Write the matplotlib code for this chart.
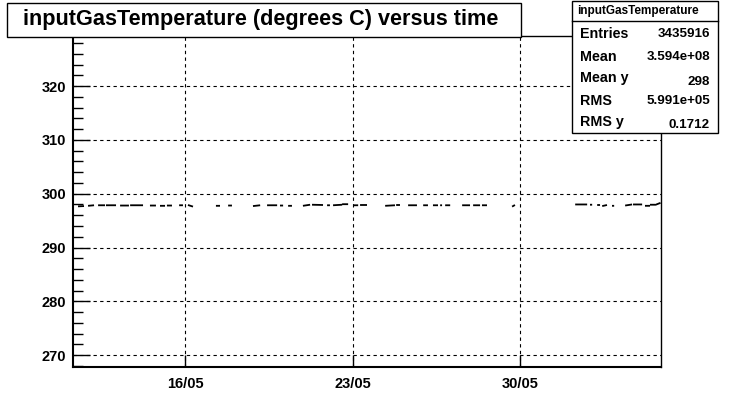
import datetime as dt
import numpy as np
import matplotlib
matplotlib.use("Agg")
import matplotlib.pyplot as plt
import matplotlib.dates as mdates
from matplotlib.patches import Rectangle

plt.rcParams['font.family'] = ['Liberation Sans', 'DejaVu Sans']

# ---- data (time in "day of May 2006", fractional) ----
seg_start = [11.51, 11.93, 12.35, 12.68, 13.27, 13.69, 14.52, 14.94, 15.23, 15.74,
             16.11, 17.28, 17.79, 18.83, 19.42, 19.96, 20.30, 20.92, 21.30, 21.93,
             22.18, 22.56, 23.02, 23.31, 24.36, 24.82, 25.32, 25.95, 26.36, 26.66,
             26.87, 27.58, 28.04, 28.41, 29.67, 32.31, 32.93, 33.23, 33.44, 33.85,
             34.40, 34.73, 35.23, 35.44, 35.65]
seg_end = [11.76, 12.18, 12.64, 13.10, 13.64, 14.23, 14.77, 15.15, 15.44, 15.90,
           16.32, 17.45, 17.95, 19.13, 19.84, 20.09, 20.46, 21.22, 21.76, 22.05,
           22.56, 22.81, 23.23, 23.60, 24.77, 24.98, 25.69, 26.15, 26.57, 26.74,
           27.08, 27.91, 28.33, 28.62, 29.79, 32.81, 33.02, 33.35, 33.64, 33.94,
           34.69, 35.11, 35.44, 35.65, 35.88]
seg_t0 = [297.65, 297.75, 297.85, 297.85, 297.80, 297.85, 297.80, 297.75, 297.80, 297.85,
          297.90, 297.75, 297.80, 297.70, 297.85, 297.80, 297.75, 297.75, 297.95, 297.85,
          297.85, 298.05, 297.85, 297.90, 297.75, 297.90, 297.85, 297.85, 297.85, 297.85,
          297.85, 297.85, 297.85, 297.85, 297.60, 298.00, 297.95, 297.90, 297.70, 297.75,
          297.80, 298.00, 297.75, 297.95, 297.90]
seg_t1 = [297.70, 297.85, 297.85, 297.85, 297.80, 297.85, 297.80, 297.75, 297.80, 297.85,
          297.60, 297.75, 297.80, 297.85, 297.85, 297.80, 297.75, 297.95, 297.90, 297.85,
          297.95, 298.05, 297.85, 297.90, 297.85, 297.90, 297.85, 297.85, 297.85, 297.85,
          297.85, 297.85, 297.85, 297.85, 297.90, 298.00, 297.95, 297.90, 297.90, 297.75,
          298.00, 298.00, 297.75, 297.95, 298.30]

x_tick_days = [16, 23, 30]
x_tick_labels = ["16/05", "23/05", "30/05"]
x_range_days = [11.30, 35.90]
y_ticks = [270, 280, 290, 300, 310, 320]
y_range = [267.8, 329.3]

title = "inputGasTemperature (degrees C) versus time"
stats_name = "inputGasTemperature"
stats_labels = ["Entries", "Mean", "Mean y", "RMS", "RMS y"]
stats_values = ["3435916", "3.594e+08", "298", "5.991e+05", "0.1712"]

base = dt.datetime(2006, 5, 1)
def to_date(d):
    return base + dt.timedelta(days=d - 1)

xs, ys = [], []
for s, e, a, b in zip(seg_start, seg_end, seg_t0, seg_t1):
    xs += [mdates.date2num(to_date(s)), mdates.date2num(to_date(e)), np.nan]
    ys += [a, b, np.nan]

W, H = 735, 408
fig = plt.figure(figsize=(W / 100, H / 100), dpi=100, facecolor='white')

def fx(px):
    return px / W
def fy(py):
    return 1 - py / H

ax = fig.add_axes([fx(73), fy(367), fx(661) - fx(73), fy(36) - fy(367)])
ax.plot(xs, ys, color='black', lw=1.3, solid_capstyle='butt')

ax.set_xlim(mdates.date2num(to_date(x_range_days[0])), mdates.date2num(to_date(x_range_days[1])))
ax.set_ylim(*y_range)
ax.set_xticks([mdates.date2num(to_date(d)) for d in x_tick_days])
ax.set_xticklabels(x_tick_labels)
ax.set_yticks(y_ticks)
ax.set_yticks(np.arange(268, 330, 2), minor=True)

for lab in ax.get_xticklabels() + ax.get_yticklabels():
    lab.set_fontweight('bold')
    lab.set_fontsize(10.5)

ax.tick_params(axis='y', which='major', direction='in', length=12.5, width=1, pad=5, right=False)
ax.tick_params(axis='y', which='minor', direction='in', length=7, width=1, right=False)
ax.tick_params(axis='x', which='major', direction='in', length=8.5, width=1, pad=7, top=False)
ax.grid(True, which='major', color='black', linestyle=(0, (3, 3)), linewidth=0.8)
for sp in ax.spines.values():
    sp.set_linewidth(1.0)
ax.spines['left'].set_linewidth(1.5)
ax.spines['bottom'].set_linewidth(1.5)

# title box
fig.patches.append(Rectangle((fx(7), fy(37)), fx(521) - fx(7), fy(3) - fy(37),
                             transform=fig.transFigure, facecolor='white',
                             edgecolor='black', lw=1.0, zorder=5))
fig.text(fx(23), fy(20), title, fontsize=15.6, fontweight='bold',
         ha='left', va='center', zorder=6)

# stats box
bx0, bx1, by0, by1 = 572, 718, 1, 133
fig.patches.append(Rectangle((fx(bx0), fy(by1)), fx(bx1) - fx(bx0), fy(by0) - fy(by1),
                             transform=fig.transFigure, facecolor='white',
                             edgecolor='black', lw=1.0, zorder=5))
fig.lines.append(plt.Line2D([fx(bx0), fx(bx1)], [fy(21), fy(21)],
                            transform=fig.transFigure, color='black', lw=1.0, zorder=6))
fig.text(fx(638), fy(11), stats_name, fontsize=8.5,
         ha='center', va='center', zorder=7, fontweight='bold')
row_y = [34, 57, 78, 101, 122]
val_dy = [0, 0, 4, 0, 3]
for lab, val, ry, dy in zip(stats_labels, stats_values, row_y, val_dy):
    fig.text(fx(580), fy(ry), lab, fontsize=10.3, fontweight='bold',
             ha='left', va='center', zorder=7)
    fig.text(fx(710), fy(ry + dy), val, fontsize=9.6, fontweight='bold',
             ha='right', va='center', zorder=7)

fig.savefig("out.png", dpi=100, facecolor='white')
